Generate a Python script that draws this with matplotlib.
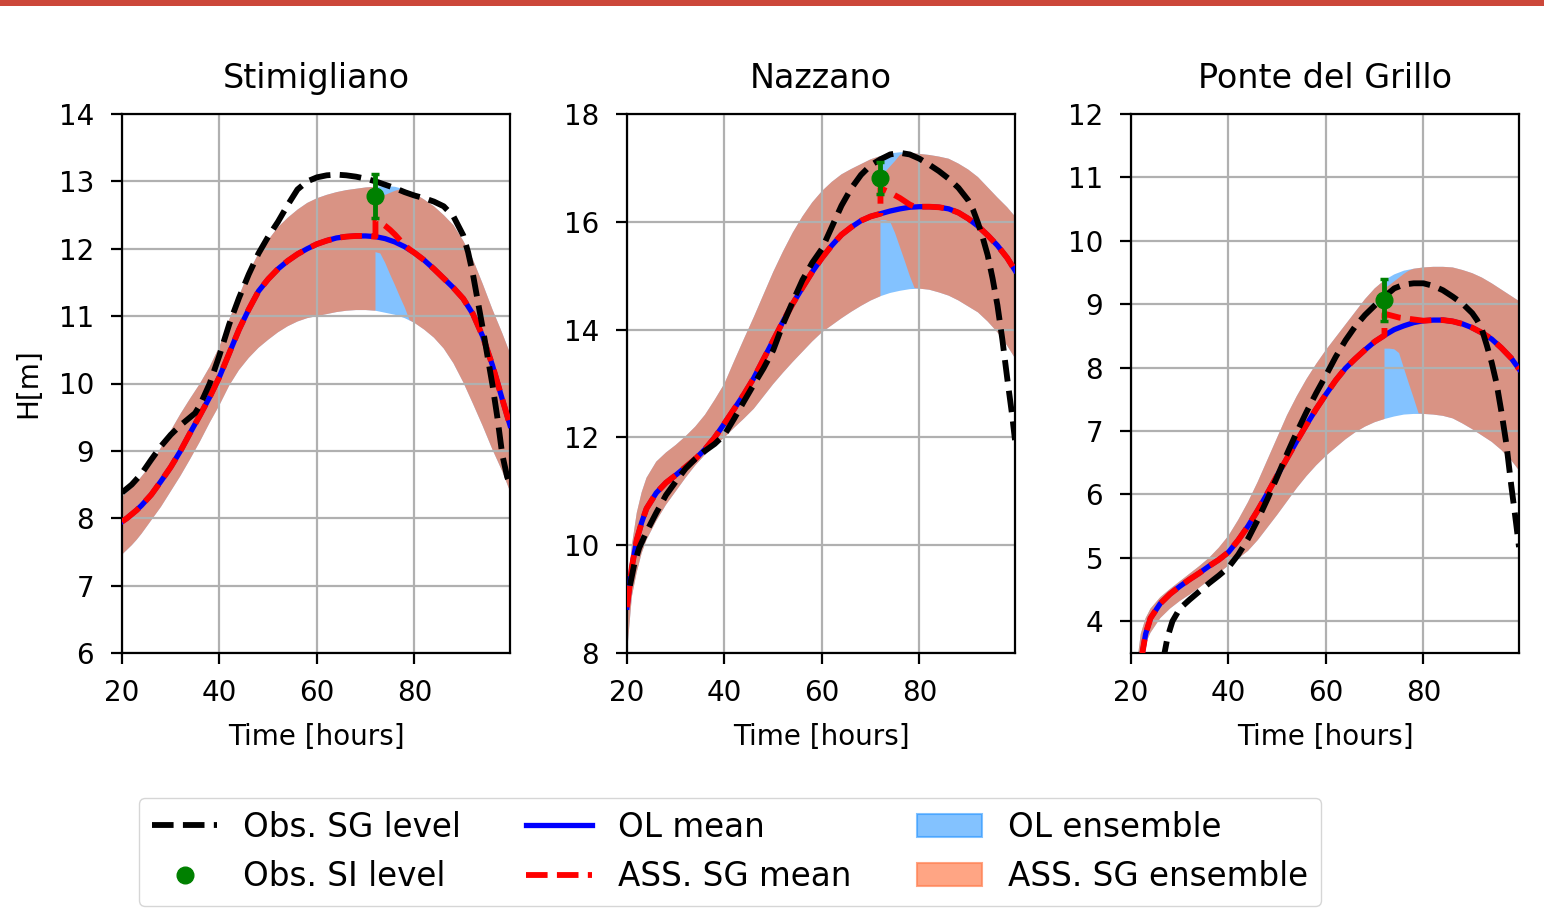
import matplotlib
matplotlib.use("Agg")
import matplotlib.pyplot as plt
from matplotlib.patches import Patch, Rectangle
from matplotlib.lines import Line2D
from matplotlib.colors import to_rgba

# ---------------------------------------------------------------- data
stations = ["Stimigliano", "Nazzano", "Ponte del Grillo"]
t_assim = 72.0

# Stimigliano
stim_t = [20, 21, 22, 23, 24, 26, 28, 30, 32, 34, 36, 38, 40, 42, 44, 46, 48, 50,
          52, 54, 56, 58, 60, 62, 64, 66, 68, 70, 72, 74, 76, 78, 80, 82, 84, 86,
          88, 90, 92, 94, 96, 98, 99.6]
stim_ol_mean = [7.95, 8.0, 8.06, 8.12, 8.19, 8.35, 8.55, 8.76, 9.0, 9.27, 9.53, 9.8,
                10.1, 10.45, 10.8, 11.1, 11.37, 11.55, 11.7, 11.82, 11.92, 12.0, 12.07,
                12.12, 12.16, 12.18, 12.19, 12.19, 12.18, 12.15, 12.1, 12.03, 11.94,
                11.83, 11.7, 11.56, 11.42, 11.26, 11.03, 10.7, 10.27, 9.77, 9.38]
stim_ol_high = [8.32, 8.38, 8.45, 8.53, 8.62, 8.8, 9.05, 9.3, 9.55, 9.78, 10.0, 10.25,
                10.55, 10.95, 11.3, 11.65, 11.93, 12.13, 12.32, 12.46, 12.58, 12.68,
                12.75, 12.8, 12.84, 12.87, 12.89, 12.91, 12.92, 12.93, 12.92, 12.88,
                12.82, 12.73, 12.63, 12.5, 12.35, 12.12, 11.84, 11.48, 11.1, 10.75, 10.45]
stim_ol_low = [7.46, 7.53, 7.6, 7.68, 7.77, 7.97, 8.17, 8.4, 8.63, 8.88, 9.14, 9.42,
               9.68, 9.97, 10.2, 10.38, 10.53, 10.65, 10.76, 10.85, 10.92, 10.97, 11.0,
               11.03, 11.06, 11.08, 11.09, 11.09, 11.08, 11.05, 11.02, 10.97, 10.9,
               10.8, 10.68, 10.52, 10.3, 10.02, 9.7, 9.37, 9.02, 8.7, 8.4]
stim_obs_t = [20, 22, 24, 26, 28, 30, 32, 34, 35, 36, 38, 40, 42, 44, 46, 48, 50, 52,
              54, 56, 58, 60, 62, 64, 66, 68, 70, 72, 74, 76, 78, 80, 82, 84, 86, 88,
              90, 91, 92, 93, 94, 95, 96, 97, 98, 99, 99.6]
stim_obs = [8.38, 8.5, 8.66, 8.87, 9.07, 9.24, 9.38, 9.5, 9.56, 9.68, 10.0, 10.42,
            10.88, 11.27, 11.62, 11.93, 12.18, 12.4, 12.65, 12.88, 13.0, 13.06, 13.09,
            13.1, 13.09, 13.07, 13.04, 13.0, 12.95, 12.9, 12.84, 12.79, 12.75, 12.7,
            12.63, 12.48, 12.2, 11.95, 11.62, 11.22, 10.82, 10.4, 9.98, 9.5, 8.95,
            8.62, 8.49]
stim_ass_t = [72, 73, 74, 75, 76, 77, 78, 79, 80]
stim_ass_mean = [12.42, 12.39, 12.34, 12.28, 12.21, 12.13, 12.05, 11.99, 11.94]
stim_ass_high = [12.77, 12.78, 12.8, 12.83, 12.86, 12.88, 12.88, 12.85, 12.82]
stim_ass_low = [11.95, 11.93, 11.79, 11.62, 11.46, 11.29, 11.13, 10.94, 10.9]
stim_si = 12.78
stim_si_err = 0.33

# Nazzano
nazz_t = stim_t
nazz_ol_mean = [8.85, 9.6, 10.1, 10.42, 10.68, 10.97, 11.16, 11.3, 11.45, 11.6, 11.78,
                12.0, 12.26, 12.53, 12.8, 13.1, 13.45, 13.8, 14.15, 14.48, 14.78, 15.07,
                15.33, 15.56, 15.76, 15.9, 16.02, 16.1, 16.15, 16.2, 16.24, 16.27, 16.28,
                16.28, 16.27, 16.24, 16.17, 16.06, 15.92, 15.75, 15.56, 15.33, 15.1]
nazz_ol_high = [9.0, 10.0, 10.6, 10.98, 11.25, 11.55, 11.72, 11.86, 12.02, 12.2, 12.42,
                12.7, 13.0, 13.42, 13.83, 14.23, 14.65, 15.07, 15.45, 15.8, 16.1, 16.36,
                16.57, 16.74, 16.88, 16.98, 17.07, 17.16, 17.22, 17.27, 17.29, 17.28,
                17.26, 17.24, 17.21, 17.17, 17.08, 16.97, 16.83, 16.64, 16.45, 16.27, 16.1]
nazz_ol_low = [8.0, 9.05, 9.5, 9.85, 10.1, 10.45, 10.75, 11.0, 11.25, 11.48, 11.68,
               11.85, 12.0, 12.18, 12.35, 12.53, 12.76, 12.99, 13.2, 13.4, 13.59, 13.78,
               13.95, 14.08, 14.21, 14.33, 14.44, 14.54, 14.62, 14.68, 14.72, 14.75,
               14.76, 14.74, 14.69, 14.63, 14.54, 14.43, 14.32, 14.15, 13.95, 13.7, 13.47]
nazz_obs_t = [20.6, 21.5, 22.5, 24, 26, 28, 30, 32, 34, 36, 38, 40, 42, 44, 46, 48, 50,
              52, 54, 56, 58, 60, 62, 64, 66, 68, 70, 72, 74, 76, 78, 80, 82, 84, 86,
              88, 90, 91, 92, 93, 94, 95, 96, 97, 98, 99, 99.6]
nazz_obs = [9.25, 9.65, 9.95, 10.25, 10.6, 10.93, 11.18, 11.42, 11.6, 11.75, 11.88,
            12.05, 12.35, 12.67, 12.98, 13.28, 13.62, 14.1, 14.52, 14.92, 15.24, 15.5,
            15.9, 16.3, 16.62, 16.87, 17.05, 17.16, 17.25, 17.28, 17.25, 17.17, 17.06,
            16.94, 16.8, 16.63, 16.4, 16.22, 15.98, 15.7, 15.38, 14.95, 14.45, 13.82,
            13.1, 12.42, 11.95]
nazz_ass_t = [72, 73, 74, 75, 76, 77, 78, 79, 80]
nazz_ass_mean = [16.62, 16.58, 16.54, 16.49, 16.44, 16.38, 16.32, 16.28, 16.28]
nazz_ass_high = [16.83, 16.93, 17.03, 17.13, 17.24, 17.28, 17.28, 17.27, 17.26]
nazz_ass_low = [16.03, 16.03, 16.0, 15.79, 15.53, 15.27, 15.0, 14.77, 14.76]
nazz_si = 16.81
nazz_si_err = 0.3

# Ponte del Grillo
ponte_t = [21, 22, 23, 24, 26, 28, 30, 32, 34, 36, 38, 40, 42, 44, 46, 48, 50, 52, 54,
           56, 58, 60, 62, 64, 66, 68, 70, 72, 74, 76, 78, 80, 82, 84, 86, 88, 90, 92,
           94, 96, 98, 99.6]
ponte_ol_mean = [2.9, 3.35, 3.8, 4.05, 4.28, 4.43, 4.55, 4.66, 4.76, 4.87, 4.97, 5.09,
                 5.28, 5.5, 5.75, 6.02, 6.3, 6.57, 6.84, 7.1, 7.35, 7.58, 7.8, 7.99, 8.14,
                 8.28, 8.41, 8.51, 8.6, 8.66, 8.71, 8.74, 8.75, 8.75, 8.73, 8.69, 8.63,
                 8.55, 8.45, 8.31, 8.15, 7.98]
ponte_ol_high = [3.2, 3.8, 4.05, 4.2, 4.38, 4.51, 4.63, 4.75, 4.87, 5.0, 5.16, 5.35, 5.6,
                 5.88, 6.2, 6.55, 6.9, 7.25, 7.55, 7.82, 8.06, 8.28, 8.48, 8.68, 8.88,
                 9.08, 9.25, 9.38, 9.47, 9.53, 9.56, 9.58, 9.59, 9.59, 9.58, 9.54, 9.49,
                 9.42, 9.33, 9.23, 9.13, 9.05]
ponte_ol_low = [2.8, 3.3, 3.65, 3.82, 4.05, 4.2, 4.32, 4.42, 4.53, 4.65, 4.76, 4.88,
                4.99, 5.11, 5.28, 5.48, 5.68, 5.89, 6.1, 6.29, 6.46, 6.61, 6.74, 6.87,
                6.98, 7.07, 7.14, 7.19, 7.23, 7.26, 7.27, 7.27, 7.26, 7.24, 7.2, 7.12,
                7.03, 6.93, 6.83, 6.7, 6.54, 6.38]
ponte_obs_t = [26.5, 27.5, 28.5, 30, 32, 34, 36, 38, 40, 42, 44, 46, 48, 50, 52, 54, 56,
               58, 60, 62, 64, 66, 68, 70, 72, 74, 76, 78, 80, 82, 84, 86, 88, 90, 91,
               92, 93, 94, 95, 96, 97, 98, 99, 99.6]
ponte_obs = [3.35, 3.75, 4.0, 4.2, 4.34, 4.47, 4.6, 4.72, 4.85, 5.05, 5.3, 5.6, 5.93,
             6.28, 6.64, 6.98, 7.3, 7.6, 7.88, 8.17, 8.43, 8.65, 8.83, 8.98, 9.12, 9.25,
             9.31, 9.33, 9.33, 9.29, 9.22, 9.12, 9.01, 8.86, 8.75, 8.6, 8.35, 8.08, 7.75,
             7.3, 6.8, 6.15, 5.55, 5.17]
ponte_ass_t = [72, 73, 74, 75, 76, 77, 78, 79, 80]
ponte_ass_mean = [8.85, 8.83, 8.81, 8.79, 8.78, 8.77, 8.76, 8.75, 8.74]
ponte_ass_high = [9.25, 9.3, 9.36, 9.42, 9.48, 9.53, 9.56, 9.57, 9.58]
ponte_ass_low = [8.3, 8.3, 8.29, 8.23, 7.99, 7.75, 7.52, 7.28, 7.27]
ponte_si = 9.07
ponte_si_err = 0.33

y_limits = [(6, 14), (8, 18), (3.5, 12)]
y_ticks = [list(range(6, 15)), list(range(8, 19, 2)), list(range(4, 13))]
x_ticks = [20, 40, 60, 80]

# ---------------------------------------------------------------- style
OL_FILL = to_rgba("dodgerblue", 0.55)
ASS_FILL = to_rgba("coral", 0.7)
LW_OBS = 4.2
LW_ASS = 4.2
LW_OL = 3.8

plt.rcParams.update({
    "font.family": "DejaVu Sans",
    "font.size": 20,
    "axes.linewidth": 1.6,
    "xtick.major.width": 1.6,
    "ytick.major.width": 1.6,
    "xtick.major.size": 8,
    "ytick.major.size": 8,
    "xtick.major.pad": 11,
    "ytick.major.pad": 12,
})

fig = plt.figure(figsize=(15.44, 9.17), dpi=100)
fig.patches.append(Rectangle((0, 1 - 6 / 917), 1, 6 / 917, transform=fig.transFigure,
                             facecolor="#cc473a", edgecolor="none"))

lefts = [122 / 1544, 627 / 1544, 1131 / 1544]
ax_w = 388 / 1544
ax_b = 1 - 653 / 917
ax_h = 539 / 917

panels = [
    (stim_t, stim_ol_mean, stim_ol_low, stim_ol_high, stim_obs_t, stim_obs,
     stim_ass_t, stim_ass_mean, stim_ass_low, stim_ass_high, stim_si, stim_si_err),
    (nazz_t, nazz_ol_mean, nazz_ol_low, nazz_ol_high, nazz_obs_t, nazz_obs,
     nazz_ass_t, nazz_ass_mean, nazz_ass_low, nazz_ass_high, nazz_si, nazz_si_err),
    (ponte_t, ponte_ol_mean, ponte_ol_low, ponte_ol_high, ponte_obs_t, ponte_obs,
     ponte_ass_t, ponte_ass_mean, ponte_ass_low, ponte_ass_high, ponte_si, ponte_si_err),
]


def splice(t, base, t_new, new):
    """Open-loop values up to the update time, analysis values after it,
    then back to open-loop once the analysis segment ends."""
    before = [(ti, vi) for ti, vi in zip(t, base) if ti <= t_new[0]]
    after = [(ti, vi) for ti, vi in zip(t, base) if ti > t_new[-1]]
    pts = before + list(zip(t_new, new)) + after
    return [p[0] for p in pts], [p[1] for p in pts]


for i, (name, data) in enumerate(zip(stations, panels)):
    (t, ol_mean, ol_low, ol_high, obs_t, obs, a_t, a_mean, a_low, a_high,
     si, si_err) = data
    ax = fig.add_axes([lefts[i], ax_b, ax_w, ax_h])

    ax.fill_between(t, ol_low, ol_high, facecolor=OL_FILL, linewidth=0, zorder=1)
    ta, lo = splice(t, ol_low, a_t, a_low)
    _, hi = splice(t, ol_high, a_t, a_high)
    ax.fill_between(ta, lo, hi, facecolor=ASS_FILL, linewidth=0, zorder=1.1)

    ax.plot(t, ol_mean, color="blue", lw=LW_OL, zorder=3)
    tm, mm = splice(t, ol_mean, a_t, a_mean)
    ax.plot(tm, mm, color="red", lw=LW_ASS, ls="--", zorder=3.2)
    ax.plot(obs_t, obs, color="black", lw=LW_OBS, ls="--", zorder=3.4)

    ax.errorbar([t_assim], [si], yerr=[si_err], fmt="none", ecolor="green",
                elinewidth=3.5, capsize=3, capthick=2.5, zorder=4)
    ax.plot([t_assim], [si], "o", color="green", ms=12, zorder=4.1)

    ax.set_xlim(20, 99.6)
    ax.set_ylim(*y_limits[i])
    ax.set_xticks(x_ticks)
    ax.set_yticks(y_ticks[i])
    ax.grid(True, color="#b0b0b0", lw=1.6)
    ax.set_title(name, fontsize=24, pad=19)
    ax.set_xlabel("Time [hours]", fontsize=20, labelpad=11)
    if i == 0:
        ax.set_ylabel("H[m]", fontsize=20, labelpad=12)

handles = [
    Line2D([], [], color="black", lw=LW_OBS, ls="--"),
    Line2D([], [], color="green", marker="o", ls="none", ms=12),
    Line2D([], [], color="blue", lw=LW_OL),
    Line2D([], [], color="red", lw=LW_ASS, ls="--"),
    Patch(facecolor=OL_FILL, edgecolor=OL_FILL, lw=1.5),
    Patch(facecolor=ASS_FILL, edgecolor=ASS_FILL, lw=1.5),
]
labels = ["Obs. SG level", "Obs. SI level", "OL mean", "ASS. SG mean",
          "OL ensemble", "ASS. SG ensemble"]
fig.legend(handles, labels, ncol=3, loc="center", fontsize=23.5,
           bbox_to_anchor=(730 / 1544, 1 - 852 / 917), frameon=True)

fig.savefig("out.png", dpi=100)
